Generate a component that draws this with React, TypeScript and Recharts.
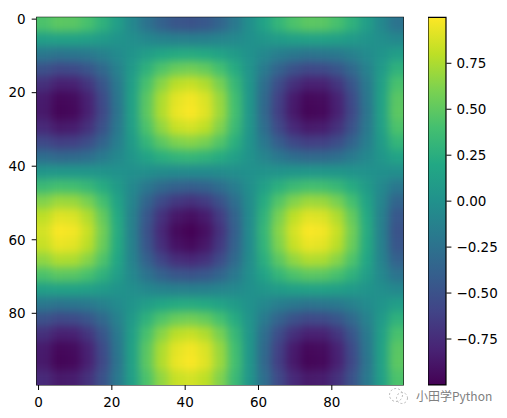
import { Bar, BarChart, ReferenceArea, Scatter, ScatterChart, XAxis, YAxis } from 'recharts';

// values, one row per 4 image rows, one column per 4 image columns
const row00 = [.43,.49,.48,.41,.28,.11,-.07,-.24,-.38,-.47,-.49,-.45,-.35,-.20,-.02,.16,.31,.43,.49,.48,.41,.28,.11,-.07,-.24];
const row01 = [.12,.14,.14,.12,.08,.03,-.02,-.07,-.11,-.13,-.14,-.13,-.10,-.06,-.01,.04,.09,.12,.14,.14,.12,.08,.03,-.02,-.07];
const row02 = [-.20,-.23,-.22,-.19,-.13,-.05,.03,.11,.18,.22,.23,.21,.16,.09,.01,-.07,-.15,-.20,-.23,-.22,-.19,-.13,-.05,.03,.11];
const row03 = [-.50,-.56,-.55,-.47,-.32,-.13,.08,.28,.44,.54,.57,.52,.40,.23,.03,-.18,-.36,-.50,-.56,-.55,-.47,-.32,-.13,.08,.28];
const row04 = [-.72,-.82,-.81,-.69,-.47,-.19,.12,.41,.64,.79,.83,.76,.59,.33,.04,-.27,-.53,-.72,-.82,-.81,-.69,-.47,-.19,.12,.41];
const row05 = [-.85,-.96,-.94,-.81,-.55,-.22,.14,.48,.75,.92,.97,.89,.69,.39,.05,-.31,-.62,-.85,-.96,-.94,-.81,-.55,-.22,.14,.48];
const row06 = [-.86,-.98,-.96,-.82,-.56,-.23,.14,.49,.76,.94,.99,.91,.70,.40,.05,-.32,-.63,-.86,-.98,-.96,-.82,-.56,-.23,.14,.49];
const row07 = [-.76,-.86,-.84,-.72,-.50,-.20,.12,.43,.67,.83,.87,.80,.62,.35,.04,-.28,-.56,-.76,-.86,-.84,-.72,-.50,-.20,.12,.43];
const row08 = [-.56,-.63,-.62,-.53,-.36,-.15,.09,.31,.49,.61,.64,.59,.45,.26,.03,-.20,-.41,-.56,-.63,-.62,-.53,-.36,-.15,.09,.31];
const row09 = [-.28,-.32,-.31,-.27,-.18,-.07,.04,.16,.25,.30,.32,.29,.23,.13,.02,-.10,-.20,-.28,-.32,-.31,-.27,-.18,-.07,.04,.16];
const row10 = [.04,.05,.05,.04,.03,.01,-.01,-.02,-.04,-.05,-.05,-.05,-.04,-.02,0,.02,.03,.04,.05,.05,.04,.03,.01,-.01,-.02];
const row11 = [.35,.40,.39,.33,.23,.09,-.06,-.20,-.31,-.38,-.40,-.37,-.28,-.16,-.02,.13,.26,.35,.40,.39,.33,.23,.09,-.06,-.20];
const row12 = [.62,.70,.69,.59,.40,.16,-.10,-.35,-.55,-.67,-.71,-.65,-.50,-.28,-.04,.23,.45,.62,.70,.69,.59,.40,.16,-.10,-.35];
const row13 = [.80,.91,.89,.76,.52,.21,-.13,-.45,-.71,-.87,-.92,-.85,-.65,-.37,-.05,.29,.59,.80,.91,.89,.76,.52,.21,-.13,-.45];
const row14 = [.87,.99,.97,.83,.57,.23,-.14,-.49,-.77,-.95,-1.0,-.92,-.71,-.40,-.05,.32,.64,.87,.99,.97,.83,.57,.23,-.14,-.49];
const row15 = [.83,.94,.92,.79,.54,.22,-.13,-.47,-.73,-.90,-.95,-.87,-.67,-.38,-.05,.30,.61,.83,.94,.92,.79,.54,.22,-.13,-.47];
const row16 = [.67,.76,.75,.64,.44,.18,-.11,-.38,-.59,-.73,-.77,-.71,-.55,-.31,-.04,.25,.49,.67,.76,.75,.64,.44,.18,-.11,-.38];
const row17 = [.43,.49,.48,.41,.28,.11,-.07,-.24,-.38,-.47,-.49,-.45,-.35,-.20,-.02,.16,.31,.43,.49,.48,.41,.28,.11,-.07,-.24];
const row18 = [.12,.14,.14,.12,.08,.03,-.02,-.07,-.11,-.13,-.14,-.13,-.10,-.06,-.01,.04,.09,.12,.14,.14,.12,.08,.03,-.02,-.07];
const row19 = [-.20,-.23,-.22,-.19,-.13,-.05,.03,.11,.18,.22,.23,.21,.16,.09,.01,-.07,-.15,-.20,-.23,-.22,-.19,-.13,-.05,.03,.11];
const row20 = [-.50,-.56,-.55,-.47,-.32,-.13,.08,.28,.44,.54,.57,.52,.40,.23,.03,-.18,-.36,-.50,-.56,-.55,-.47,-.32,-.13,.08,.28];
const row21 = [-.72,-.82,-.81,-.69,-.47,-.19,.12,.41,.64,.79,.83,.76,.59,.33,.04,-.27,-.53,-.72,-.82,-.81,-.69,-.47,-.19,.12,.41];
const row22 = [-.85,-.96,-.94,-.81,-.55,-.22,.14,.48,.75,.92,.97,.89,.69,.39,.05,-.31,-.62,-.85,-.96,-.94,-.81,-.55,-.22,.14,.48];
const row23 = [-.86,-.98,-.96,-.82,-.56,-.23,.14,.49,.76,.94,.99,.91,.70,.40,.05,-.32,-.63,-.86,-.98,-.96,-.82,-.56,-.23,.14,.49];
const row24 = [-.76,-.86,-.84,-.72,-.50,-.20,.12,.43,.67,.83,.87,.80,.62,.35,.04,-.28,-.56,-.76,-.86,-.84,-.72,-.50,-.20,.12,.43];
const rows = [row00,row01,row02,row03,row04,row05,row06,row07,row08,row09,row10,row11,row12,row13,row14,row15,row16,row17,row18,row19,row20,row21,row22,row23,row24];

const axisTicks = [0, 20, 40, 60, 80];
const colorTicks = [-0.75, -0.5, -0.25, 0, 0.25, 0.5, 0.75];
const viridis = ['#440154','#482475','#414487','#355f8d','#2a788e','#21918c','#22a884','#44bf70','#7ad151','#bddf26','#fde725'];

const hex = (c: string) => [1, 3, 5].map((i) => parseInt(c.slice(i, i + 2), 16));
function colorOf(v: number) {
  const t = Math.min(0.9999, Math.max(0, (v + 1) / 2)) * (viridis.length - 1);
  const i = Math.floor(t);
  const a = hex(viridis[i]);
  const b = hex(viridis[i + 1]);
  return `rgb(${a.map((c, k) => Math.round(c + (b[k] - c) * (t - i))).join(',')})`;
}

const cells = rows.flatMap((r, j) => r.map((v, i) => ({ x: 1.5 + i * 4, y: 1.5 + j * 4, v, i, j })));

const W = 507;
const H = 418;
const left = 36.7;
const right = 403.3;
const top = 17.3;
const bottom = 385;
const cellW = (right - left) / 25;
const cellH = (bottom - top) / 25;
const pad = 16; // edge cells run past the frame so the softening doesn't fade at the border

function HeatCell(props: any) {
  const { cx, cy, payload } = props;
  const x0 = cx - cellW / 2 - (payload.i === 0 ? pad : 0);
  const x1 = cx + cellW / 2 + (payload.i === 24 ? pad : 0.5);
  const y0 = cy - cellH / 2 - (payload.j === 0 ? pad : 0);
  const y1 = cy + cellH / 2 + (payload.j === 24 ? pad : 0.5);
  return <rect x={x0} y={y0} width={x1 - x0} height={y1 - y0} fill={colorOf(payload.v)} />;
}

const tickStyle = { fontFamily: 'DejaVu Sans', fontSize: 13.5, fill: '#000' };
const fmt = (v: number) => (v < 0 ? `\u2212${(-v).toFixed(2)}` : v.toFixed(2));

export default function App() {
  return (
    <div style={{ position: 'absolute', left: 0, top: 0, width: W, height: H, background: '#fff', overflow: 'hidden' }}>
      <style>{`.recharts-scatter { filter: url(#soften); clip-path: url(#plotClip); }`}</style>
      <div style={{ position: 'absolute', left: 0, top: 0 }}>
        <ScatterChart width={W} height={H} margin={{ left: 0.7, top, right: W - right, bottom: 0 }}>
          <defs>
            <filter id="soften" filterUnits="userSpaceOnUse" x={0} y={0} width={W} height={H} colorInterpolationFilters="sRGB">
              <feGaussianBlur stdDeviation={4.5} />
            </filter>
            <clipPath id="plotClip">
              <rect x={left} y={top} width={right - left} height={bottom - top} />
            </clipPath>
          </defs>
          <XAxis type="number" dataKey="x" domain={[-0.5, 99.5]} ticks={axisTicks} height={H - bottom} axisLine={false}
            tick={tickStyle} tickLine={{ stroke: '#000' }} tickSize={5} tickMargin={7} allowDataOverflow />
          <YAxis type="number" dataKey="y" domain={[-0.5, 99.5]} reversed ticks={axisTicks} width={36} axisLine={false}
            tick={tickStyle} tickLine={{ stroke: '#000' }} tickSize={5} tickMargin={6} allowDataOverflow />
          <Scatter data={cells} shape={HeatCell} isAnimationActive={false} />
          <ReferenceArea x1={-0.5} x2={99.5} y1={-0.5} y2={99.5} fill="none" stroke="#000" strokeWidth={1.2} ifOverflow="visible" />
        </ScatterChart>
      </div>
      <div style={{ position: 'absolute', left: 428.3, top: 0 }}>
        <BarChart width={78.7} height={H} data={[{ name: 'cbar', range: [-1, 1] }]} margin={{ left: 0, top, right: 0, bottom: H - bottom }} barCategoryGap={0}>
          <defs>
            <linearGradient id="viridisBar" x1="0" y1="1" x2="0" y2="0">
              {viridis.map((c, i) => <stop key={c} offset={i / (viridis.length - 1)} stopColor={c} />)}
            </linearGradient>
          </defs>
          <XAxis dataKey="name" hide />
          <YAxis type="number" orientation="right" domain={[-1, 1]} ticks={colorTicks} width={60.3} axisLine={false}
            tick={tickStyle} tickLine={{ stroke: '#000' }} tickSize={5} tickMargin={5} tickFormatter={fmt} />
          <Bar dataKey="range" fill="url(#viridisBar)" stroke="#000" strokeWidth={1.2} isAnimationActive={false} />
        </BarChart>
      </div>
      <svg width={24} height={20} style={{ position: 'absolute', left: 387, top: 386 }}>
        <circle cx={9} cy={9} r={6.5} fill="none" stroke="#bbb" strokeWidth={1} strokeDasharray="2 2" />
        <circle cx={15} cy={12} r={5.5} fill="none" stroke="#bbb" strokeWidth={1} strokeDasharray="2 2" />
      </svg>
      <div style={{ position: 'absolute', left: 416, top: 387, fontFamily: '"Noto Sans CJK SC"', fontSize: 12, color: '#808080', whiteSpace: 'nowrap' }}>
        小田学Python
      </div>
    </div>
  );
}
